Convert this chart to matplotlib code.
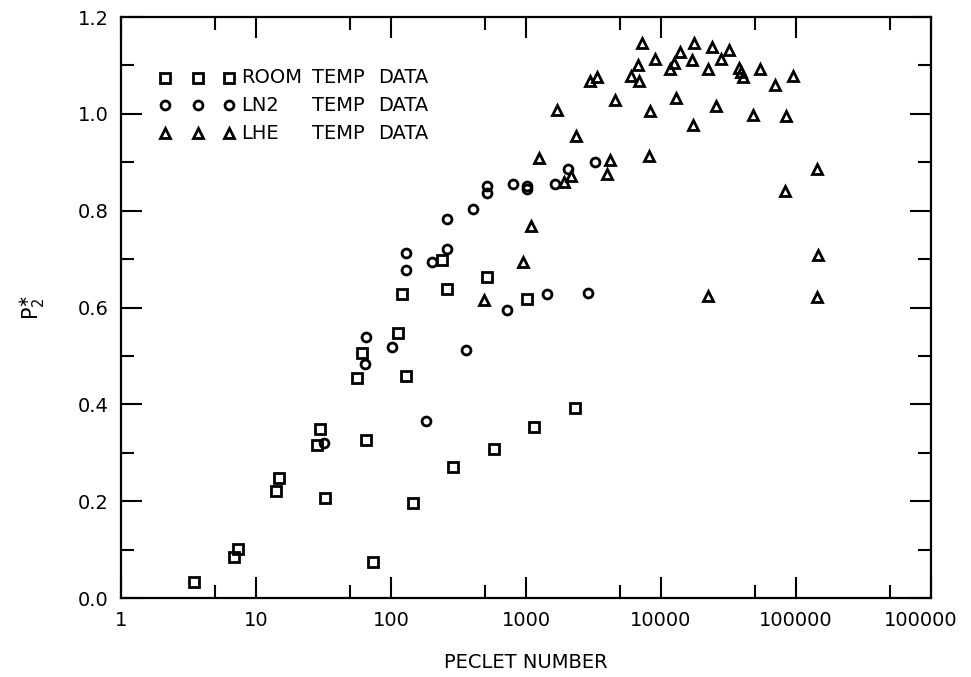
import matplotlib
matplotlib.use("Agg")
import matplotlib.pyplot as plt
import matplotlib.transforms as mtransforms
from matplotlib.ticker import FixedLocator, FixedFormatter, NullFormatter

# Peclet number vs. normalised P2* for three test temperatures
room_pe = [3.49, 6.87, 7.4, 14.1, 14.9, 28.1, 29.8, 32.4, 55.7, 60.7, 64.9, 73.1,
           113, 120, 128.5, 145, 240, 259, 290, 512, 579, 1012, 1146, 2306]
room_p2 = [0.034, 0.084, 0.101, 0.221, 0.247, 0.316, 0.350, 0.206, 0.455, 0.507, 0.326, 0.075,
           0.547, 0.628, 0.459, 0.196, 0.698, 0.638, 0.271, 0.664, 0.307, 0.618, 0.354, 0.392]

ln2_pe = [32.1, 65.3, 64.2, 101, 182, 359, 719, 129, 129, 202, 259, 259,
          407, 512, 512, 806, 1023, 1023, 1438, 1640, 2061, 2896, 3260]
ln2_p2 = [0.320, 0.540, 0.483, 0.519, 0.366, 0.512, 0.595, 0.712, 0.678, 0.694, 0.720, 0.783,
          0.803, 0.850, 0.837, 0.855, 0.851, 0.845, 0.627, 0.855, 0.886, 0.630, 0.900]

lhe_pe = [491, 957, 1083, 1248, 1706, 1922, 2154, 2346, 2993, 3375, 3960, 4214,
          4560, 5960, 6710, 6870, 7270, 8188, 8330, 9030, 11670, 12560, 12830, 13830,
          17060, 17180, 17650, 22400, 22400, 24000, 25400, 27800, 32100, 38000, 39000, 40700,
          47800, 54100, 69900, 83400, 83800, 95500, 142400, 143800, 146300]
lhe_p2 = [0.616, 0.695, 0.769, 0.908, 1.007, 0.860, 0.872, 0.955, 1.068, 1.076, 0.875, 0.904,
          1.029, 1.079, 1.100, 1.068, 1.146, 0.912, 1.005, 1.114, 1.092, 1.105, 1.032, 1.128,
          1.112, 0.976, 1.147, 1.093, 0.624, 1.138, 1.017, 1.114, 1.131, 1.094, 1.086, 1.077,
          0.998, 1.092, 1.060, 0.841, 0.996, 1.078, 0.621, 0.886, 0.709]

x_major = [1, 10, 100, 1000, 10000, 100000, 1000000]
x_labels = ["1", "10", "100", "1000", "10000", "100000", "100000"]
x_minor = [5, 50, 500, 5000, 50000, 500000]
y_major = [0.0, 0.2, 0.4, 0.6, 0.8, 1.0, 1.2]
y_labels = ["0.0", "0.2", "0.4", "0.6", "0.8", "1.0", "1.2"]
y_minor = [0.1, 0.3, 0.5, 0.7, 0.9, 1.1]

legend_names = ["ROOM", "LN2", "LHE"]

plt.rcParams["font.family"] = ["DejaVu Sans"]

fig = plt.figure(figsize=(9.71, 6.77), dpi=100)
ax = fig.add_axes([121 / 971, 1 - 598 / 677, 810 / 971, 581 / 677])

mk = dict(linestyle="none", markerfacecolor="none", markeredgecolor="black",
          markeredgewidth=2.0, clip_on=False)
ax.plot(room_pe, room_p2, marker="s", markersize=6.6, **mk)
ax.plot(ln2_pe, ln2_p2, marker="o", markersize=6.4, **mk)
ax.plot(lhe_pe, lhe_p2, marker="^", markersize=7.0, **mk)

ax.set_xscale("log")
ax.set_xlim(1, 1e6)
ax.set_ylim(0, 1.2)

ax.xaxis.set_major_locator(FixedLocator(x_major))
ax.xaxis.set_major_formatter(FixedFormatter(x_labels))
ax.xaxis.set_minor_locator(FixedLocator(x_minor))
ax.xaxis.set_minor_formatter(NullFormatter())
ax.yaxis.set_major_locator(FixedLocator(y_major))
ax.yaxis.set_major_formatter(FixedFormatter(y_labels))
ax.yaxis.set_minor_locator(FixedLocator(y_minor))

ax.tick_params(which="both", direction="in", top=True, right=True, width=1.5,
               labelsize=14)
ax.tick_params(which="major", length=15)
ax.tick_params(which="minor", length=9.5)
ax.tick_params(axis="x", which="major", pad=9)
ax.tick_params(axis="y", which="major", pad=9)

for sp in ax.spines.values():
    sp.set_linewidth(1.6)

# the last decade label sits a little to the left of its tick
last = ax.get_xticklabels()[-1]
last.set_transform(last.get_transform() +
                   mtransforms.ScaledTranslation(-10 / 100, 0, fig.dpi_scale_trans))

ax.set_xlabel("PECLET NUMBER", fontsize=14, labelpad=17)
ax.set_ylabel(r"$\mathrm{P}_2^{\ast}$", fontsize=15, labelpad=22)

# legend block drawn in axes-fraction coordinates
rows_y = [0.8955, 0.848, 0.7998]
markers = ["s", "o", "^"]
sizes = [6.6, 6.4, 7.0]
for name, yy, m, s in zip(legend_names, rows_y, markers, sizes):
    ax.plot([0.0546, 0.0946, 0.1333], [yy] * 3, marker=m, markersize=s,
            transform=ax.transAxes, **mk)
    ax.text(0.148, yy, name, transform=ax.transAxes, fontsize=14, va="center", ha="left")
    ax.text(0.236, yy, "TEMP", transform=ax.transAxes, fontsize=14, va="center", ha="left")
    ax.text(0.318, yy, "DATA", transform=ax.transAxes, fontsize=14, va="center", ha="left")

fig.savefig("out.png", dpi=100, facecolor="white")
